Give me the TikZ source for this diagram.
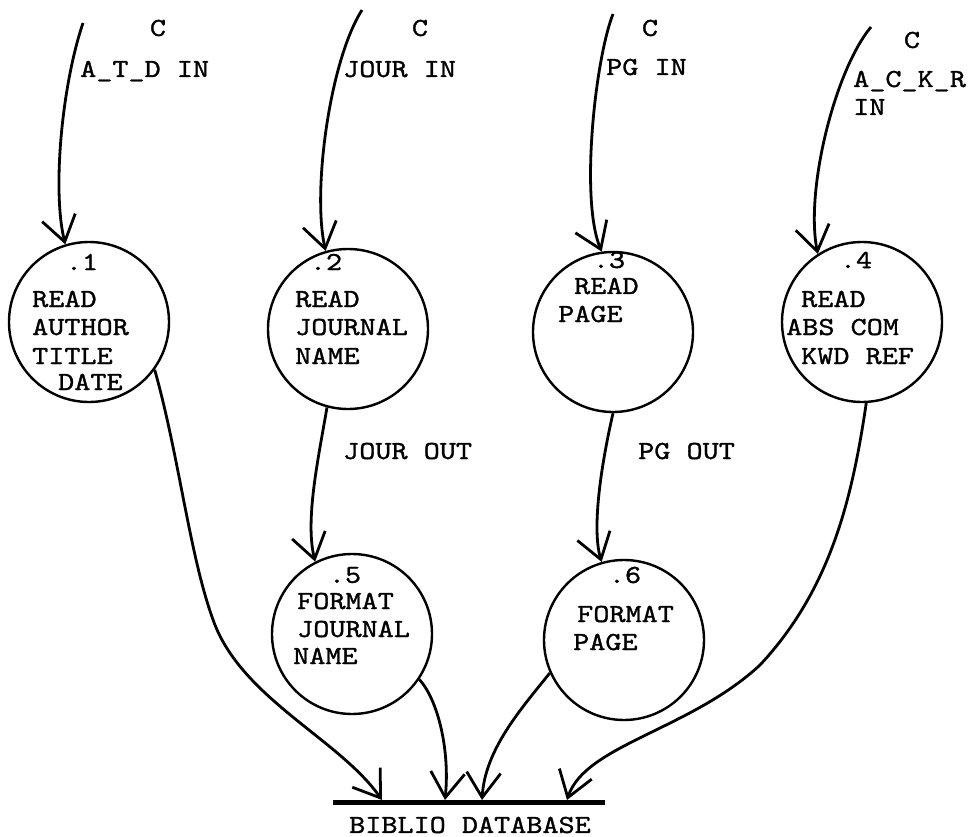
\documentclass[tikz,border=0pt]{standalone}
\usepackage{fontspec}
\setmonofont{lmmono10-regular.otf}[FakeStretch=1.18,FakeBold=1.2]
\usetikzlibrary{arrows.meta}
\begin{document}
\begin{tikzpicture}[x=1pt,y=-1pt,
  proc/.style={circle,draw,line width=2.4pt,minimum size=160pt,inner sep=0pt},
  txt/.style={anchor=base west,inner sep=0pt,font=\ttfamily\fontsize{26}{28}\selectfont},
  ctxt/.style={txt,anchor=center},
  flow/.style={line width=2.8pt,-{Straight Barb[length=25pt,width=34pt,line width=2.8pt]}},
  store/.style={line width=5pt}]
\useasboundingbox (0,0) rectangle (972,837);

% processes
\node[proc] (c1) at (89,322) {};
\node[proc] (c2) at (348,329) {};
\node[proc] (c3) at (613,332) {};
\node[proc] (c4) at (862,322) {};
\node[proc] (c5) at (352,634) {};
\node[proc] (c6) at (624,640) {};

% process texts
\node[ctxt] (n1) at (82,262) {.1};
\node[txt] (t1a) at (32,307) {READ};
\node[txt] (t1b) at (32,335) {AUTHOR};
\node[txt] (t1c) at (32,364) {TITLE};
\node[txt] (t1d) at (58,390) {DATE};

\node[ctxt] (n2) at (326,262) {.2};
\node[txt] (t2a) at (295,307) {READ};
\node[txt] (t2b) at (295,335) {JOURNAL};
\node[txt] (t2c) at (295,364) {NAME};

\node[ctxt] (n3) at (609,260) {.3};
\node[txt] (t3a) at (574,294) {READ};
\node[txt] (t3b) at (558,322) {PAGE};

\node[ctxt] (n4) at (856,260) {.4};
\node[txt] (t4a) at (801,307) {READ};
\node[txt] (t4b) at (786,335) {ABS COM};
\node[txt] (t4c) at (801,364) {KWD REF};

\node[ctxt] (n5) at (345,575) {.5};
\node[txt] (t5a) at (297,609) {FORMAT};
\node[txt] (t5b) at (297,637) {JOURNAL};
\node[txt] (t5c) at (293,664) {NAME};

\node[ctxt] (n6) at (625,575) {.6};
\node[txt] (t6a) at (577,622) {FORMAT};
\node[txt] (t6b) at (573,650) {PAGE};

% input flow labels
\node[ctxt] (k1) at (158,28) {C};
\node[txt] (l1) at (80,77) {A\_T\_D IN};
\node[ctxt] (k2) at (420,28) {C};
\node[txt] (l2) at (343,77) {JOUR IN};
\node[ctxt] (k3) at (650,28) {C};
\node[txt] (l3) at (606,75) {PG IN};
\node[ctxt] (k4) at (912,40) {C};
\node[txt] (l4a) at (853,87) {A\_C\_K\_R};
\node[txt] (l4b) at (853,115) {IN};

% internal flow labels
\node[txt] (jo) at (343,459) {JOUR OUT};
\node[txt] (po) at (638,459) {PG OUT};

% data store
\coordinate (dbl) at (333,802);
\coordinate (dbr) at (605,802);
\draw[store] (dbl) -- (dbr);
\node[ctxt] (dbt) at (470,825) {BIBLIO DATABASE};
\coordinate (d1) at (382,800);
\coordinate (d5) at (445,800);
\coordinate (d6) at (482,800);
\coordinate (d4) at (567,800);

% sources of the input flows
\coordinate (s1) at (83,23);
\coordinate (s2) at (362,10);
\coordinate (s3) at (613,14);
\coordinate (s4) at (871,27);

% input flows
\draw[flow] (s1) .. controls (62,85) and (52,190) .. (c1.107);
\draw[flow] (s2) .. controls (330,60) and (312,190) .. (c2.106);
\draw[flow] (s3) .. controls (595,60) and (580,200) .. (c3.98);
\draw[flow] (s4) .. controls (835,70) and (805,190) .. (c4.123);

% internal flows
\draw[flow] (c2.-105) .. controls (318,460) and (305,520) .. (c5.117);
\draw[flow] (c3.-90) .. controls (600,470) and (592,530) .. (c6.106);

% flows into the database
\draw[flow] (c1.-36) .. controls (180,460) and (190,560) .. (215,625)
  .. controls (245,700) and (340,740) .. (d1);
\draw[flow] (c5.-34) .. controls (438,700) and (450,750) .. (d5);
\draw[flow] (c6.-156) .. controls (520,710) and (485,750) .. (d6);
\draw[flow] (c4.-87) .. controls (852,500) and (830,590) .. (760,665)
  .. controls (690,730) and (585,745) .. (d4);
\end{tikzpicture}
\end{document}
